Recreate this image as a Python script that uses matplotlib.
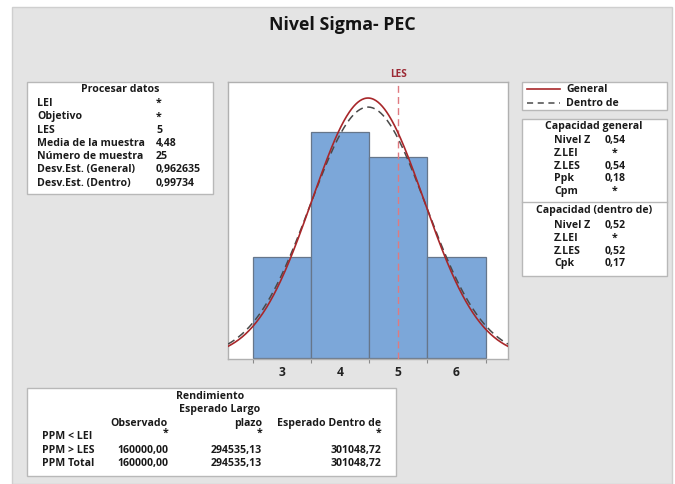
import numpy as np
import matplotlib
matplotlib.use("Agg")
import matplotlib.pyplot as plt
from matplotlib.patches import Rectangle
from matplotlib.lines import Line2D

W, H = 675, 485

# ---- data ----
bin_centers = [3, 4, 5, 6]
counts = [4, 9, 8, 4]
bin_width = 1.0
sample_mean = 4.48
std_overall = 0.962635
std_within = 0.99734
n_samples = 25
usl = 5
xticks = [3, 4, 5, 6]

proc_labels = ["LEI", "Objetivo", "LES", "Media de la muestra", "Número de muestra",
               "Desv.Est. (General)", "Desv.Est. (Dentro)"]
proc_values = ["*", "*", "5", "4,48", "25", "0,962635", "0,99734"]
overall_labels = ["Nivel Z", "Z.LEI", "Z.LES", "Ppk", "Cpm"]
overall_values = ["0,54", "*", "0,54", "0,18", "*"]
within_labels = ["Nivel Z", "Z.LEI", "Z.LES", "Cpk"]
within_values = ["0,52", "*", "0,52", "0,17"]
perf_rows = ["PPM < LEI", "PPM > LES", "PPM Total"]
perf_obs = ["*", "160000,00", "160000,00"]
perf_lt = ["*", "294535,13", "294535,13"]
perf_within = ["*", "301048,72", "301048,72"]

plt.rcParams['font.family'] = ['Open Sans', 'DejaVu Sans']
FS = 7.6
TXT = '#1a1a1a'
WEIGHT = 'bold'

fig = plt.figure(figsize=(W / 100, H / 100), dpi=100, facecolor='white')

# gray background panel
fig.patches.append(Rectangle((12 / W, 0), (672 - 12) / W, (485 - 8) / H,
                             transform=fig.transFigure, fc='#e4e4e4', ec='#cfcfcf', lw=1, zorder=-5))


def box(x0, y0, x1, y1):
    fig.patches.append(Rectangle((x0 / W, 1 - y1 / H), (x1 - x0) / W, (y1 - y0) / H,
                                 transform=fig.transFigure, fc='white', ec='#b8b8b8', lw=1, zorder=1))


def ft(x, y, s, ha='left', **kw):
    kw.setdefault('fontsize', FS)
    kw.setdefault('color', TXT)
    kw.setdefault('fontweight', WEIGHT)
    fig.text(x / W, 1 - y / H, s, ha=ha, va='center', zorder=3, **kw)


# title
ft(342, 25, "Nivel Sigma- PEC", ha='center', fontsize=12.8, fontweight='bold', color='#141414')

# ---- main histogram axes ----
ax = fig.add_axes([228 / W, 1 - 360 / H, (508 - 228) / W, (360 - 83) / H])
ax.set_zorder(2)
ax.set_facecolor('white')
ax.bar(bin_centers, counts, width=bin_width, color='#7ca7d9', edgecolor='#66768a', lw=0.9, zorder=2)
xlim = (sample_mean - 2.5 * std_overall, sample_mean + 2.5 * std_overall)
xs = np.linspace(xlim[0], xlim[1], 400)
y_over = n_samples * bin_width * np.exp(-0.5 * ((xs - sample_mean) / std_overall) ** 2) / (std_overall * np.sqrt(2 * np.pi))
y_with = n_samples * bin_width * np.exp(-0.5 * ((xs - sample_mean) / std_within) ** 2) / (std_within * np.sqrt(2 * np.pi))
ax.plot(xs, y_with, color='#4a4a4a', lw=1.1, ls=(0, (5, 3)), zorder=3)
ax.plot(xs, y_over, color='#a8272a', lw=1.2, zorder=4)
ax.axvline(usl, color='#e07a80', lw=1.0, ls=(0, (5, 3)), zorder=3)
ax.set_xlim(*xlim)
ax.set_ylim(-0.05, 11)
ax.set_yticks([])
ax.set_xticks(xticks)
ax.set_xticklabels([str(t) for t in xticks])
edges = [c - bin_width / 2 for c in bin_centers] + [bin_centers[-1] + bin_width / 2]
ax.set_xticks(edges, minor=True)
ax.tick_params(axis='x', which='major', length=0, pad=4, labelsize=8.7, labelcolor='#222222')
ax.tick_params(axis='x', which='minor', length=3, color='#8a8a8a', width=0.8)
for lab in ax.get_xticklabels():
    lab.set_fontweight('bold')
for s in ax.spines.values():
    s.set_color('#b0b0b0')
    s.set_linewidth(1)
ax.text(usl, 1.012, "LES", transform=ax.get_xaxis_transform(), ha='center', va='bottom',
        fontsize=7.2, color='#9c2a35', fontweight='bold')

# ---- left process data box ----
box(27, 83, 213, 195)
ft(120, 90, "Procesar datos", ha='center')
for i, (lab, val) in enumerate(zip(proc_labels, proc_values)):
    y = 103.5 + i * 13.3
    ft(37, y, lab)
    ft(156, y, val)

# ---- legend box ----
box(522, 83, 667, 111)
fig.lines.append(Line2D([527 / W, 560 / W], [1 - 90 / H, 1 - 90 / H], transform=fig.transFigure,
                        color='#a8272a', lw=1.2, zorder=3))
fig.lines.append(Line2D([527 / W, 560 / W], [1 - 104 / H, 1 - 104 / H], transform=fig.transFigure,
                        color='#4a4a4a', lw=1.1, ls=(0, (4, 3)), zorder=3))
ft(566, 90, "General")
ft(566, 104, "Dentro de")

# ---- capability boxes ----
box(522, 120, 667, 277)
fig.lines.append(Line2D([522 / W, 667 / W], [1 - 203 / H, 1 - 203 / H], transform=fig.transFigure,
                        color='#b8b8b8', lw=1, zorder=2))
ft(594, 127, "Capacidad general", ha='center')
for i, (lab, val) in enumerate(zip(overall_labels, overall_values)):
    y = 140.5 + i * 12.8
    ft(554, y, lab)
    ft(615, y, val, ha='center')
ft(594, 211, "Capacidad (dentro de)", ha='center')
for i, (lab, val) in enumerate(zip(within_labels, within_values)):
    y = 225.5 + i * 12.8
    ft(554, y, lab)
    ft(615, y, val, ha='center')

# ---- performance table ----
box(27, 389, 396, 477)
ft(210, 397, "Rendimiento", ha='center')
ft(220, 410, "Esperado Largo", ha='center')
ft(168, 423.5, "Observado", ha='right')
ft(262, 423.5, "plazo", ha='right')
ft(381, 423.5, "Esperado Dentro de", ha='right')
for i, lab in enumerate(perf_rows):
    y = 437 + i * 13.3
    ft(42, y, lab)
    dy = -4 if perf_obs[i] == "*" else 0
    ft(168, y + dy, perf_obs[i], ha='right')
    ft(262, y + dy, perf_lt[i], ha='right')
    ft(381, y + dy, perf_within[i], ha='right')

fig.savefig("out.png", dpi=100, facecolor=fig.get_facecolor())
